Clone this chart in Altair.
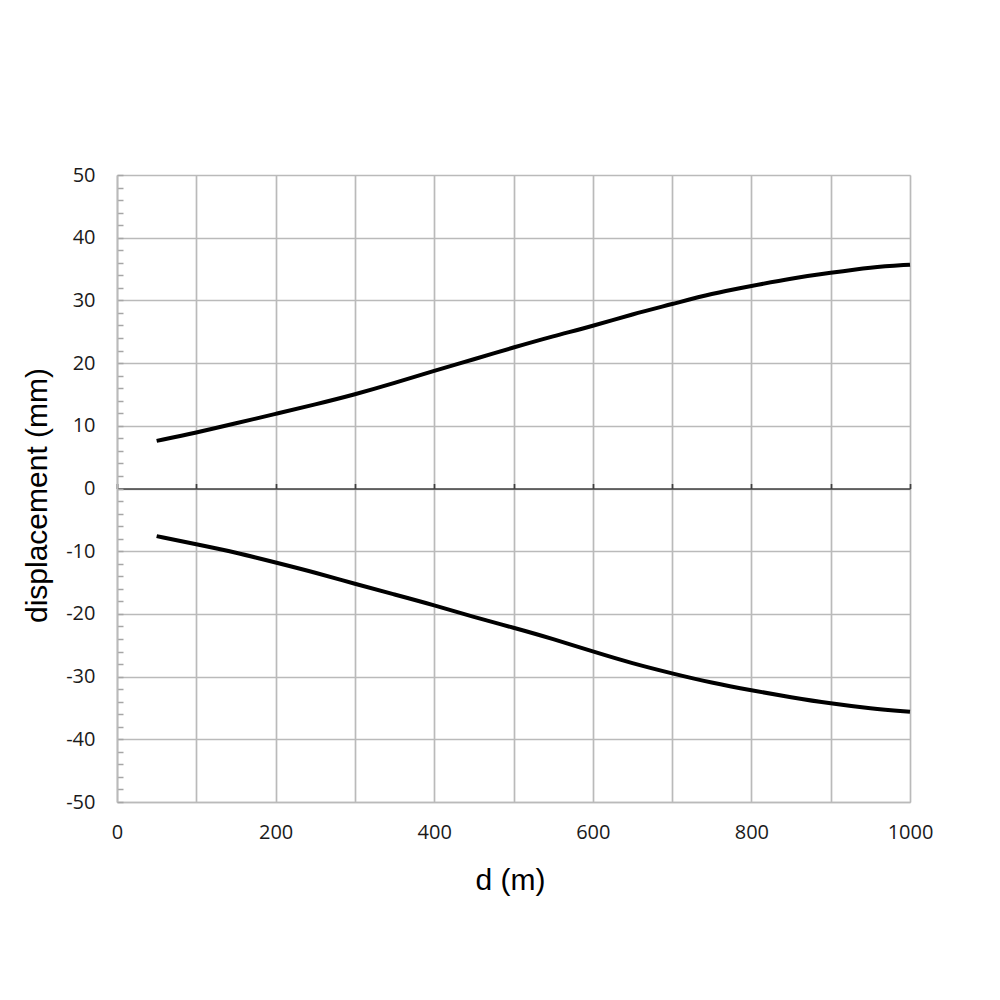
import altair as alt
import pandas as pd

d_values = [50, 100, 150, 200, 250, 300, 350, 400, 450, 500, 550, 600, 650, 700, 750, 800, 850, 900, 950, 1000]
upper = [7.6, 8.9, 10.4, 11.9, 13.4, 15.0, 16.8, 18.8, 20.6, 22.5, 24.3, 25.9, 27.8, 29.4, 31.1, 32.3, 33.5, 34.4, 35.3, 35.7]
lower = [-7.6, -8.9, -10.2, -11.8, -13.4, -15.2, -16.9, -18.6, -20.5, -22.2, -24.0, -26.0, -27.9, -29.5, -31.0, -32.2, -33.3, -34.3, -35.1, -35.6]

x_ticks = list(range(0, 1001, 200))
x_grid = list(range(0, 1001, 100))
y_ticks = list(range(-50, 51, 10))
y_minor = list(range(-50, 51, 2))

rows = []
for d, u in zip(d_values, upper):
    rows.append({"d": d, "disp": u, "series": "upper"})
for d, l in zip(d_values, lower):
    rows.append({"d": d, "disp": l, "series": "lower"})
df = pd.DataFrame(rows)

W, H = 793, 627
zero_offset = -(H * 50 / 100)

xscale = alt.Scale(domain=[0, 1000], nice=False, zero=False)
yscale = alt.Scale(domain=[-50, 50], nice=False, zero=False)

label_font = "Open Sans"
title_font = "Liberation Sans"
grid_col = "#bababa"

base = alt.Chart(df)

# vertical grid every 100
grid_x = base.mark_line(opacity=0).encode(
    x=alt.X("d:Q", scale=xscale, axis=alt.Axis(
        orient="bottom", values=x_grid, labels=False, ticks=False, domain=False,
        title=None, grid=True, gridColor=grid_col, gridWidth=1.7)),
    y=alt.Y("disp:Q", scale=yscale, axis=None),
    detail="series:N",
)

# zero line (top axis moved to y=0) and minor y ticks (right axis moved onto the left edge)
aux = base.mark_line(opacity=0).encode(
    x=alt.X("d:Q", scale=xscale, axis=alt.Axis(
        orient="top", offset=zero_offset, values=x_grid, labels=False, title=None,
        grid=False, domain=True, domainColor="#404040", domainWidth=1.7,
        ticks=True, tickColor="#404040", tickSize=5, tickWidth=1.7)),
    y=alt.Y("disp:Q", scale=yscale, axis=alt.Axis(
        orient="right", offset=-W, values=y_minor, labels=False, title=None,
        grid=False, domain=False, ticks=True, tickColor="#a6a6a6", tickSize=6, tickWidth=1.5)),
    detail="series:N",
)

lines = base.mark_line(color="black", strokeWidth=4, interpolate="basis").encode(
    x=alt.X("d:Q", scale=xscale, axis=alt.Axis(
        orient="bottom", values=x_ticks, title="d (m)", grid=False,
        labelExpr="datum.value + ''", labelFlush=False,
        domain=True, domainColor=grid_col, domainWidth=1.7, ticks=False,
        labelFont=label_font, labelFontSize=20, labelColor="#1a1a1a", labelPadding=20,
        titleFont=title_font, titleFontSize=30, titleFontWeight="normal", titleColor="black",
        titleX=393, titleY=78, titleBaseline="middle", titleAnchor="middle")),
    y=alt.Y("disp:Q", scale=yscale, axis=alt.Axis(
        orient="left", values=y_ticks, title="displacement (mm)", grid=True,
        gridColor=grid_col, gridWidth=1.7,
        labelExpr="datum.value + ''", labelFlush=False,
        domain=True, domainColor=grid_col, domainWidth=1.7, ticks=False,
        labelFont=label_font, labelFontSize=20, labelColor="#1a1a1a", labelPadding=22,
        titleFont=title_font, titleFontSize=30, titleFontWeight="normal", titleColor="black",
        titleX=-80, titleY=320, titleAngle=-90, titleBaseline="middle", titleAlign="center")),
    detail="series:N",
)

chart = alt.layer(grid_x, aux, lines).resolve_axis(x="independent", y="independent").properties(
    width=W, height=H,
    autosize=alt.AutoSizeParams(type="none"),
    padding={"left": 109, "top": 167, "right": 78, "bottom": 186},
).configure_view(stroke=None).configure(background="white")

chart.save("out.html", embed_options={"renderer": "svg", "actions": False})
